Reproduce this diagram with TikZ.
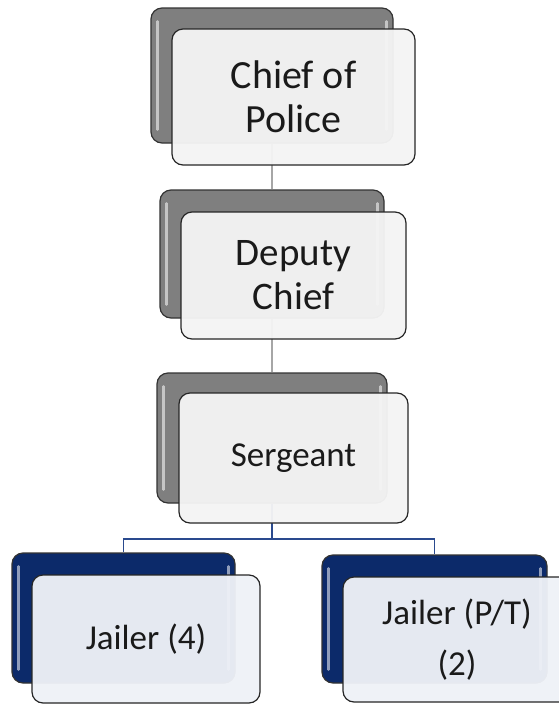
\documentclass[tikz,border=0pt]{standalone}
\usepackage{fontspec}
\setmainfont{Carlito}
\usetikzlibrary{positioning}
\usetikzlibrary{calc}

\definecolor{backgray}{HTML}{7F7F7F}
\definecolor{backnavy}{HTML}{0C2A6A}
\definecolor{frontgray}{HTML}{F4F4F4}
\definecolor{frontblue}{HTML}{EEF1F7}
\definecolor{linegray}{HTML}{A6A6A6}
\definecolor{linenavy}{HTML}{2A4A8E}
\definecolor{textblack}{HTML}{1A1A1A}

\begin{document}
\begin{tikzpicture}[x=1pt,y=1pt,
    backbox/.style={draw=black!80, line width=1.2pt, rounded corners=11pt, inner sep=0pt},
    frontbox/.style={draw=black!85, line width=1.2pt, rounded corners=11pt, inner sep=0pt,
      fill opacity=0.96, text opacity=1, text=textblack, align=center},
    gloss/.style={line width=2.5pt, white, opacity=0.55, line cap=round},
    link/.style={line width=1.3pt}]
		 % Define the frame of the page
		\useasboundingbox (0,0) rectangle (559,-705);
		
		 % Define the coordinates of the boxes
		\coordinate (cb) at (272,-75.5);
		\coordinate (cf) at (293.5,-97);
		\coordinate (db) at (272,-254);
		\coordinate (df) at (293.5,-275.5);
		\coordinate (sb) at (272,-438);
		\coordinate (sf) at (293.5,-458);
		\coordinate (jab) at (123.5,-618);
		\coordinate (jaf) at (146,-639);
		\coordinate (jbb) at (434.5,-619);
		\coordinate (jbf) at (457,-639.5);
		\coordinate (split) at (272,-539);
		
         % Draw the back boxes
		\node[backbox, fill=backgray, minimum width=242pt, minimum height=135pt] (chiefB) at (cb) {};
		\node[backbox, fill=backgray, minimum width=224pt, minimum height=128pt] (deputyB) at (db) {};
		\node[backbox, fill=backgray, minimum width=230pt, minimum height=130pt] (sergB) at (sb) {};
		\node[backbox, fill=backnavy, minimum width=223pt, minimum height=130pt] (jailaB) at (jab) {};
		\node[backbox, fill=backnavy, minimum width=225pt, minimum height=128pt] (jailbB) at (jbb) {};
		
		\foreach \bx in {chiefB, deputyB, sergB, jailaB, jailbB}
		{
		\draw[gloss] ($(\bx.north west)+(7,-14)$) -- ($(\bx.south west)+(7,14)$);
		\draw[gloss] ($(\bx.north east)+(-7,-14)$) -- ($(\bx.south east)+(-7,14)$);
		}
		
         % Draw the lines
		\draw[link, linegray] (chiefB.south) -- (deputyB.north);
		\draw[link, linegray] (deputyB.south) -- (sergB.north);
		\draw[link, linenavy] (sergB.south) -- (split);
		\draw[link, linenavy] (split) -| (jailaB.north);
		\draw[link, linenavy] (split) -| (jailbB.north);
		
         % Draw the front boxes
		\node[frontbox, fill=frontgray, minimum width=243pt, minimum height=136pt,
		  font=\fontsize{40}{44}\selectfont] (chief) at (cf) {Chief of\\Police};
		\node[frontbox, fill=frontgray, minimum width=225pt, minimum height=127pt,
		  font=\fontsize{39}{44}\selectfont] (deputy) at (df) {Deputy\\Chief};
		\node[frontbox, fill=frontgray, minimum width=229pt, minimum height=130pt,
		  font=\fontsize{35}{40}\selectfont] (serg) at (sf) {Sergeant};
		\node[frontbox, fill=frontblue, minimum width=228pt, minimum height=128pt,
		  font=\fontsize{35}{40}\selectfont] (jaila) at (jaf) {Jailer (4)};
		\node[frontbox, fill=frontblue, minimum width=228pt, minimum height=125pt,
		  font=\fontsize{35}{51}\selectfont] (jailb) at (jbf) {Jailer (P/T)\\(2)};
      \end{tikzpicture}
\end{document}
